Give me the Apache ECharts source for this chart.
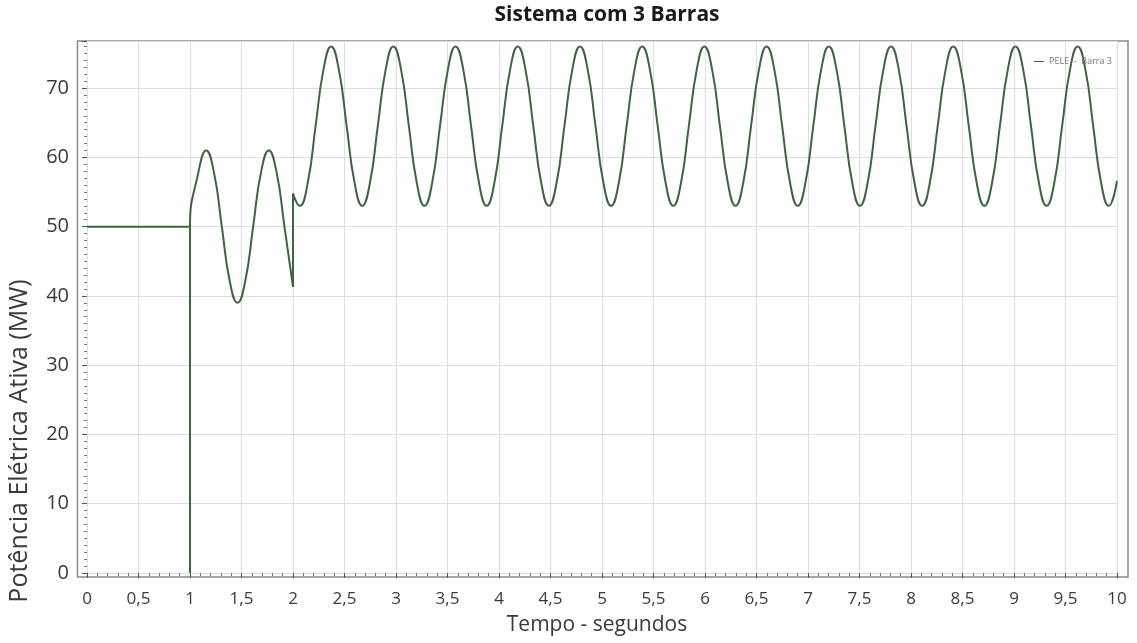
<!DOCTYPE html>
<html>
<head>
<meta charset="utf-8">
<script src="https://cdn.jsdelivr.net/npm/echarts@6/dist/echarts.min.js"></script>
<style>
html,body{margin:0;padding:0;background:#fff;}
#chart{width:1137px;height:643px;}
</style>
</head>
<body>
<div id="chart"></div>
<script>
// Time (s) samples
const timeS = [
  0, 1, 1, 1,
  1.081, 1.157, 1.233, 1.309, 1.385, 1.461, 1.537, 1.613, 1.689, 1.765, 1.841, 1.917, 2.0,
  2.0, 2.065,
  2.144, 2.219, 2.295, 2.370, 2.446, 2.521, 2.597, 2.672,
  2.748, 2.823, 2.899, 2.974, 3.050, 3.125, 3.201, 3.276,
  3.352, 3.427, 3.503, 3.578, 3.654, 3.729, 3.805, 3.880,
  3.956, 4.031, 4.107, 4.182, 4.258, 4.333, 4.409, 4.484,
  4.560, 4.635, 4.711, 4.786, 4.862, 4.937, 5.013, 5.088,
  5.164, 5.239, 5.315, 5.390, 5.466, 5.541, 5.617, 5.692,
  5.768, 5.843, 5.919, 5.994, 6.070, 6.145, 6.221, 6.296,
  6.372, 6.447, 6.523, 6.598, 6.674, 6.749, 6.825, 6.900,
  6.976, 7.051, 7.127, 7.202, 7.278, 7.353, 7.429, 7.504,
  7.580, 7.655, 7.731, 7.806, 7.882, 7.957, 8.033, 8.108,
  8.184, 8.259, 8.335, 8.410, 8.486, 8.561, 8.637, 8.712,
  8.788, 8.863, 8.939, 9.014, 9.090, 9.165, 9.241, 9.316,
  9.392, 9.467, 9.543, 9.618, 9.694, 9.769, 9.845, 9.920,
  10.0
];
// Active electrical power (MW)
const peleMW = [
  50, 50, 0, 50,
  57.8, 61, 57.8, 50, 42.2, 39, 42.2, 50, 57.8, 61, 57.8, 50, 41.3,
  54.8, 53,
  56.4, 64.5, 72.6, 76, 72.6, 64.5, 56.4, 53,
  56.4, 64.5, 72.6, 76, 72.6, 64.5, 56.4, 53,
  56.4, 64.5, 72.6, 76, 72.6, 64.5, 56.4, 53,
  56.4, 64.5, 72.6, 76, 72.6, 64.5, 56.4, 53,
  56.4, 64.5, 72.6, 76, 72.6, 64.5, 56.4, 53,
  56.4, 64.5, 72.6, 76, 72.6, 64.5, 56.4, 53,
  56.4, 64.5, 72.6, 76, 72.6, 64.5, 56.4, 53,
  56.4, 64.5, 72.6, 76, 72.6, 64.5, 56.4, 53,
  56.4, 64.5, 72.6, 76, 72.6, 64.5, 56.4, 53,
  56.4, 64.5, 72.6, 76, 72.6, 64.5, 56.4, 53,
  56.4, 64.5, 72.6, 76, 72.6, 64.5, 56.4, 53,
  56.4, 64.5, 72.6, 76, 72.6, 64.5, 56.4, 53,
  56.4, 64.5, 72.6, 76, 72.6, 64.5, 56.4, 53,
  56.6
];
const xTickLabels = ['0','0,5','1','1,5','2','2,5','3','3,5','4','4,5','5','5,5','6','6,5','7','7,5','8','8,5','9','9,5','10'];
const yTickLabels = ['0','10','20','30','40','50','60','70'];
const seriesName = 'PELE  -  Barra 3';
const chartTitle = 'Sistema com 3 Barras';
const xName = 'Tempo - segundos';
const yName = 'Potência Elétrica Ativa (MW)';

const chart = echarts.init(document.getElementById('chart'));
const font = '"Open Sans", "Noto Sans", sans-serif';
chart.setOption({
  animation: false,
  backgroundColor: '#ffffff',
  title: {
    text: chartTitle,
    left: 602, top: 0, textAlign: 'center',
    textStyle: { fontFamily: font, fontSize: 21, fontWeight: 'bold', color: '#1a1a1a' }
  },
  legend: {
    right: 20, top: 52,
    itemWidth: 10, itemHeight: 6, itemGap: 4,
    icon: 'path://M0,3L10,3L10,4L0,4Z',
    textStyle: { fontFamily: font, fontSize: 9, color: '#777' },
    data: [seriesName]
  },
  grid: { left: 87, right: 20, top: 41, bottom: 70 },
  graphic: [{
    type: 'rect', silent: true, z: 0,
    shape: { x: 77.5, y: 41, width: 1050.5, height: 536 },
    style: { fill: 'none', stroke: '#8a8a8a', lineWidth: 1.5 }
  }, {
    type: 'text', silent: true,
    x: 20, y: 441, rotation: Math.PI / 2,
    style: { text: yName, fontFamily: font, fontSize: 25, fill: '#3a3a3a', align: 'center', verticalAlign: 'middle' }
  }],
  xAxis: {
    type: 'value', min: 0, max: 10, interval: 0.5, offset: 4,
    name: xName, nameLocation: 'middle', nameGap: 38,
    nameTextStyle: { fontFamily: font, fontSize: 21, color: '#3a3a3a', padding: [0, 10, 0, 0] },
    axisLine: { show: false },
    axisTick: { show: true, length: 5, lineStyle: { color: '#555' } },
    minorTick: { show: true, splitNumber: 5, length: 3, lineStyle: { color: '#777' } },
    axisLabel: { fontFamily: font, fontSize: 17, color: '#3a3a3a', margin: 14,
      formatter: v => xTickLabels[Math.round(v / 0.5)] },
    splitLine: { show: true, lineStyle: { color: '#dedede', width: 1 } }
  },
  yAxis: {
    type: 'value', min: 0, max: 76.8, interval: 10, offset: 10,
    axisLine: { show: false },
    axisTick: { show: true, length: 5, lineStyle: { color: '#555' } },
    minorTick: { show: true, splitNumber: 10, length: 3, lineStyle: { color: '#777' } },
    axisLabel: { fontFamily: font, fontSize: 20, color: '#3a3a3a', margin: 8, showMaxLabel: false,
      formatter: v => { const i = Math.round(v / 10); return (Math.abs(v - i * 10) < 1e-6 && yTickLabels[i] !== undefined) ? yTickLabels[i] : ''; } },
    splitLine: { show: true, lineStyle: { color: '#dedede', width: 1 } }
  },
  series: [{
    name: seriesName,
    type: 'line',
    data: timeS.map((t, i) => [t, peleMW[i]]),
    showSymbol: false,
    smooth: 0.5,
    lineStyle: { color: '#3e663e', width: 2 },
    itemStyle: { color: '#3e663e' },
    z: 3
  }]
});
</script>
</body>
</html>
